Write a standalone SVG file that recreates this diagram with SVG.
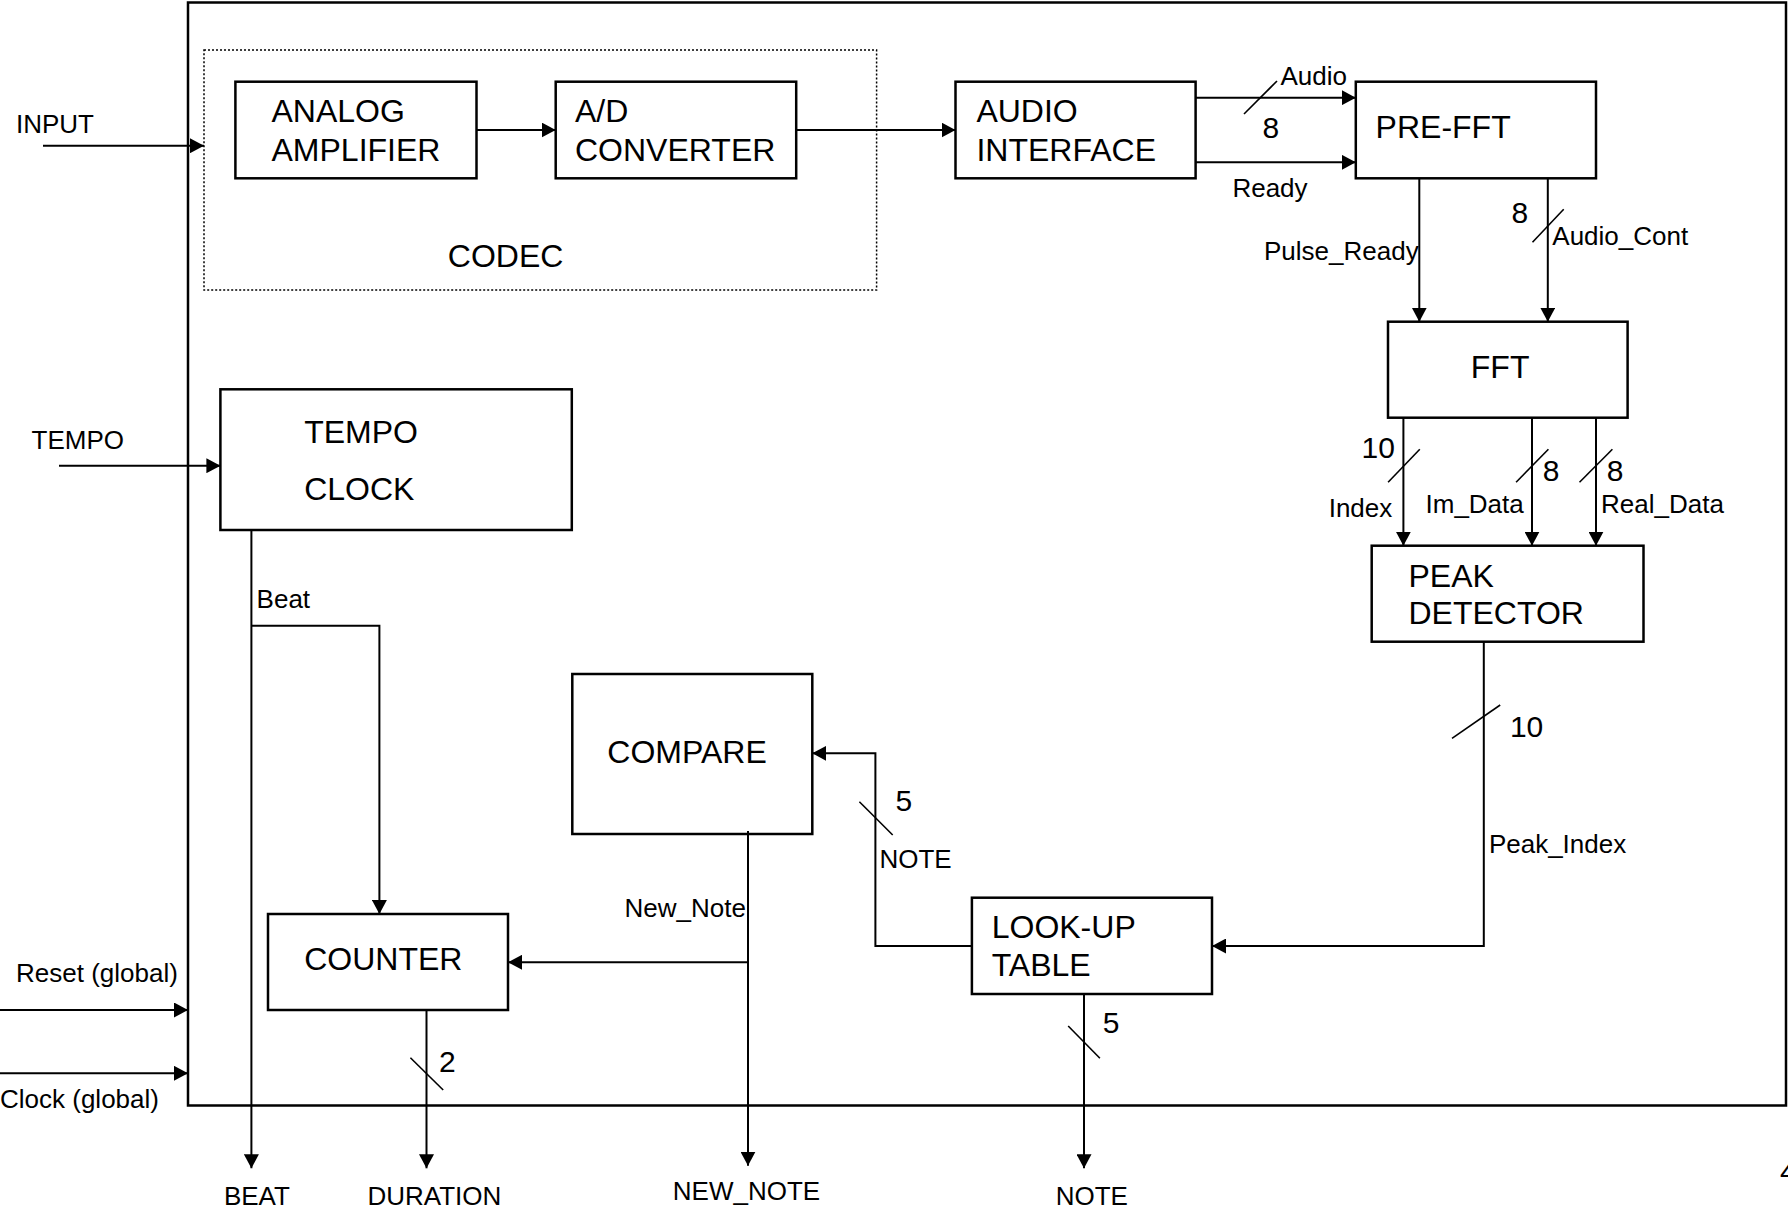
<svg xmlns="http://www.w3.org/2000/svg" width="1788" height="1212" viewBox="0 0 1788 1212">
<style>
.box{fill:#fff;stroke:#000;stroke-width:2.5}
.big{font-family:"Liberation Sans",Arial,sans-serif;font-size:32px;fill:#000}
.dig{font-family:"Liberation Sans",Arial,sans-serif;font-size:30px;fill:#000}
.sm{font-family:"Liberation Sans",Arial,sans-serif;font-size:26px;fill:#000}
.ln{fill:none;stroke:#000;stroke-width:2}
.sl{fill:none;stroke:#000;stroke-width:1.6}
</style>
<defs>
<marker id="ah" markerUnits="userSpaceOnUse" markerWidth="14" markerHeight="15" refX="14" refY="7.5" orient="auto">
<path d="M0,0 L14,7.5 L0,15 z" fill="#000"/>
</marker>
</defs>
<rect width="1788" height="1212" fill="#fff"/>
<g id="system">
<rect x="188" y="2.5" width="1598" height="1103" fill="none" stroke="#000" stroke-width="2.5"/>
</g>
<g id="codec">
<rect x="204" y="50" width="672.6" height="240" fill="none" stroke="#000" stroke-width="1.5" stroke-dasharray="2 2"/>
<text class="big" x="447.8" y="266.7">CODEC</text>
</g>
<g id="analog-amplifier">
<rect class="box" x="235.4" y="81.7" width="241.1" height="96.6"/>
<text class="big" x="271.5" y="121.7">ANALOG</text>
<text class="big" x="271.5" y="160.7">AMPLIFIER</text>
</g>
<g id="ad-converter">
<rect class="box" x="555.7" y="81.7" width="240.5" height="96.6"/>
<text class="big" x="575" y="121.7">A/D</text>
<text class="big" x="575" y="160.7">CONVERTER</text>
</g>
<g id="audio-interface">
<rect class="box" x="955.5" y="81.7" width="240.1" height="96.6"/>
<text class="big" x="976.4" y="121.7">AUDIO</text>
<text class="big" x="976.4" y="160.7">INTERFACE</text>
</g>
<g id="pre-fft">
<rect class="box" x="1355.8" y="81.7" width="240.2" height="96.6"/>
<text class="big" x="1375.6" y="138.3">PRE-FFT</text>
</g>
<g id="fft">
<rect class="box" x="1388" y="321.7" width="239.6" height="96"/>
<text class="big" x="1470.8" y="378.3">FFT</text>
</g>
<g id="peak-detector">
<rect class="box" x="1371.7" y="545.7" width="271.8" height="96"/>
<text class="big" x="1408.5" y="586.7">PEAK</text>
<text class="big" x="1408.5" y="624">DETECTOR</text>
</g>
<g id="look-up-table">
<rect class="box" x="971.9" y="897.7" width="240.1" height="96.3"/>
<text class="big" x="991.7" y="938.3">LOOK-UP</text>
<text class="big" x="991.7" y="976">TABLE</text>
</g>
<g id="compare">
<rect class="box" x="572.3" y="674" width="240" height="160"/>
<text class="big" x="607.3" y="762.7">COMPARE</text>
</g>
<g id="counter">
<rect class="box" x="268" y="914" width="240" height="96"/>
<text class="big" x="304.2" y="970">COUNTER</text>
</g>
<g id="tempo-clock">
<rect class="box" x="220.4" y="389.3" width="351.4" height="140.7"/>
<text class="big" x="304.2" y="442.7">TEMPO</text>
<text class="big" x="304.2" y="500">CLOCK</text>
</g>
<g id="connectors">
<path class="ln" d="M43,145.7 H204" marker-end="url(#ah)"/>
<path class="ln" d="M476.5,130 H555.7" marker-end="url(#ah)"/>
<path class="ln" d="M796.2,130 H955.5" marker-end="url(#ah)"/>
<path class="ln" d="M1195.6,97.7 H1355.8" marker-end="url(#ah)"/>
<path class="ln" d="M1195.6,162.3 H1355.8" marker-end="url(#ah)"/>
<path class="ln" d="M1419.3,178.3 V321.7" marker-end="url(#ah)"/>
<path class="ln" d="M1547.8,178.3 V321.7" marker-end="url(#ah)"/>
<path class="ln" d="M1403.4,417.7 V545.7" marker-end="url(#ah)"/>
<path class="ln" d="M1532,417.7 V545.7" marker-end="url(#ah)"/>
<path class="ln" d="M1596,417.7 V545.7" marker-end="url(#ah)"/>
<path class="ln" d="M1483.8,641.7 V946 H1212" marker-end="url(#ah)"/>
<path class="ln" d="M971.9,946 H875.4 V753.3 H812.3" marker-end="url(#ah)"/>
<path class="ln" d="M1084,994 V1168.3" marker-end="url(#ah)"/>
<path class="ln" d="M748,831 V1165.7" marker-end="url(#ah)"/>
<path class="ln" d="M748,962.3 H508" marker-end="url(#ah)"/>
<path class="ln" d="M59,465.7 H220.4" marker-end="url(#ah)"/>
<path class="ln" d="M251.4,530 V1168.3" marker-end="url(#ah)"/>
<path class="ln" d="M251.4,625.7 H379.4 V914" marker-end="url(#ah)"/>
<path class="ln" d="M426.5,1010 V1168.3" marker-end="url(#ah)"/>
<path class="ln" d="M0,1010 H188" marker-end="url(#ah)"/>
<path class="ln" d="M0,1073.3 H188" marker-end="url(#ah)"/>
<path class="sl" d="M1244,114 L1277,81"/>
<path class="sl" d="M1532.5,242.3 L1563.7,209.3"/>
<path class="sl" d="M1388.1,482.3 L1419.8,449.3"/>
<path class="sl" d="M1516.1,482.3 L1548.4,449.3"/>
<path class="sl" d="M1579.5,482.3 L1612.4,449.3"/>
<path class="sl" d="M1452,738.3 L1500.2,705"/>
<path class="sl" d="M859.4,801.7 L892.7,835"/>
<path class="sl" d="M1068.2,1026 L1099.9,1058.3"/>
<path class="sl" d="M410.4,1057.7 L443.2,1090"/>
</g>
<g id="labels">
<text class="sm" x="16" y="133">INPUT</text>
<text class="sm" x="31.6" y="449.3">TEMPO</text>
<text class="sm" x="16" y="981.7">Reset (global)</text>
<text class="sm" x="0" y="1108.3">Clock (global)</text>
<text class="sm" x="1280.5" y="85">Audio</text>
<text class="dig" x="1262.4" y="138.3">8</text>
<text class="sm" x="1232.4" y="196.7">Ready</text>
<text class="sm" x="1264" y="260">Pulse_Ready</text>
<text class="dig" x="1511.6" y="223.3">8</text>
<text class="sm" x="1552.3" y="245">Audio_Cont</text>
<text class="dig" x="1361.5" y="458.3">10</text>
<text class="sm" x="1328.7" y="516.7">Index</text>
<text class="dig" x="1542.7" y="480.7">8</text>
<text class="sm" x="1425.5" y="513.3">Im_Data</text>
<text class="dig" x="1606.7" y="480.7">8</text>
<text class="sm" x="1601" y="513.3">Real_Data</text>
<text class="dig" x="1509.9" y="736.7">10</text>
<text class="sm" x="1488.9" y="853.3">Peak_Index</text>
<text class="dig" x="895.5" y="811">5</text>
<text class="sm" x="879.4" y="868.3">NOTE</text>
<text class="dig" x="1102.7" y="1033.3">5</text>
<text class="sm" x="624.6" y="916.7">New_Note</text>
<text class="sm" x="256.6" y="608.3">Beat</text>
<text class="dig" x="439" y="1071.7">2</text>
<text class="sm" x="223.9" y="1205">BEAT</text>
<text class="sm" x="367.4" y="1205">DURATION</text>
<text class="sm" x="672.8" y="1200">NEW_NOTE</text>
<text class="sm" x="1055.7" y="1205">NOTE</text>
<text class="dig" x="1780" y="1182">4</text>
</g>
</svg>
